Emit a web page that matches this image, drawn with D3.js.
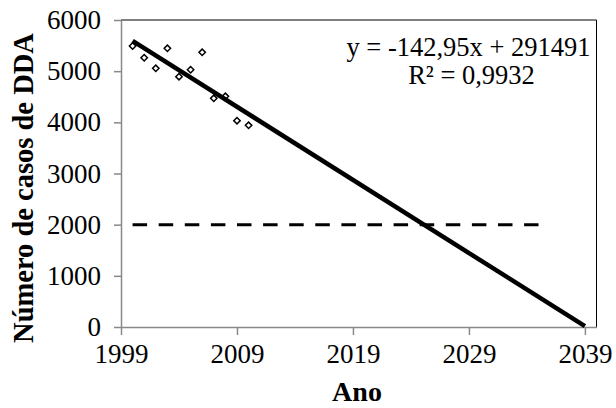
<!DOCTYPE html>
<html><head><meta charset="utf-8">
<script src="https://cdn.jsdelivr.net/npm/d3@7"></script>
<style>body{margin:0;background:#fff}svg{display:block}svg text{font-family:"Liberation Serif","Times New Roman",serif !important;fill:#000}</style>
</head><body><div id="chart"></div>
<script>
const years = [2000,2001,2002,2003,2004,2005,2006,2007,2008,2009,2010];
const cases = [5492,5263,5056,5447,4892,5028,5368,4469,4508,4032,3942];
const trendSlope = -142.95, trendIntercept = 291491;
const trendYears = [2000, 2039];
const thresholdValue = 2000;
const thresholdYears = [2000, 2035];
const xTicks = [1999,2009,2019,2029,2039];
const yTicks = [0,1000,2000,3000,4000,5000,6000];
const xDomain = [1999, 2040], yDomain = [0, 6000];
const eqLines = ["y = -142,95x + 291491", "R² = 0,9932"];
const xTitle = "Ano", yTitle = "Número de casos de DDA";

const FONT = '"Liberation Serif","Times New Roman",serif';
const W = 616, H = 408;
const m = {l:121, r:616-596.5, t:20, b:408-327};
const svg = d3.select("#chart").append("svg").attr("width",W).attr("height",H);
const x = d3.scaleLinear().domain(xDomain).range([m.l, W-m.r]);
const y = d3.scaleLinear().domain(yDomain).range([H-m.b, m.t]);

// frame (top/right)
svg.append("path").attr("d",`M${x(xDomain[0])},${y(yDomain[1])}H${x(xDomain[1])}V${y(0)}`)
  .attr("fill","none").attr("stroke","#000").attr("stroke-width",1);

const gx = svg.append("g").attr("transform",`translate(0,${y(0)})`)
  .call(d3.axisBottom(x).tickValues(xTicks).tickFormat(d3.format("d")).tickSize(8).tickSizeOuter(0).tickPadding(9));
const gy = svg.append("g").attr("transform",`translate(${x(xDomain[0])},0)`)
  .call(d3.axisLeft(y).tickValues(yTicks).tickFormat(d3.format("d")).tickSize(7).tickSizeOuter(0).tickPadding(13));
[gx,gy].forEach(g=>{
  g.attr("font-family",null).attr("font-size",null);
  g.select(".domain").attr("stroke","#898989").attr("stroke-width",1.5);
  g.selectAll(".tick line").attr("stroke","#898989").attr("stroke-width",1.5);
  g.selectAll(".tick text").style("font-family",FONT).style("font-size","27px").attr("fill","#000");
});

// threshold dashed line
svg.append("line")
  .attr("x1",x(thresholdYears[0])).attr("x2",x(thresholdYears[1]))
  .attr("y1",y(thresholdValue)).attr("y2",y(thresholdValue))
  .attr("stroke","#000").attr("stroke-width",3).attr("stroke-dasharray","14.5,11.6");

// markers
const s = 3.2;
svg.append("g").selectAll("path").data(years).join("path")
  .attr("d",(d,i)=>{const cx=x(d), cy=y(cases[i]);return `M${cx},${cy-s}L${cx+s},${cy}L${cx},${cy+s}L${cx-s},${cy}Z`;})
  .attr("fill","#fff").attr("stroke","#000").attr("stroke-width",1.5);

// trend line
const line = d3.line().x(d=>x(d)).y(d=>y(trendSlope*d+trendIntercept));
svg.append("path").datum(trendYears).attr("d",line)
  .attr("fill","none").attr("stroke","#000").attr("stroke-width",4.5);

// equation
svg.append("text").attr("x",468.5).attr("y",56).attr("text-anchor","middle").style("font-size","26.5px").text(eqLines[0]);
svg.append("text").attr("x",471.5).attr("y",83.5).attr("text-anchor","middle").style("font-size","26.5px").text(eqLines[1]);

// titles
svg.append("text").attr("x",357).attr("y",401).attr("text-anchor","middle").style("font-size","28px").attr("font-weight","bold").text(xTitle);
svg.append("text").attr("transform","translate(33,188) rotate(-90)").attr("text-anchor","middle").style("font-size","28.5px").attr("font-weight","bold").text(yTitle);
</script></body></html>
